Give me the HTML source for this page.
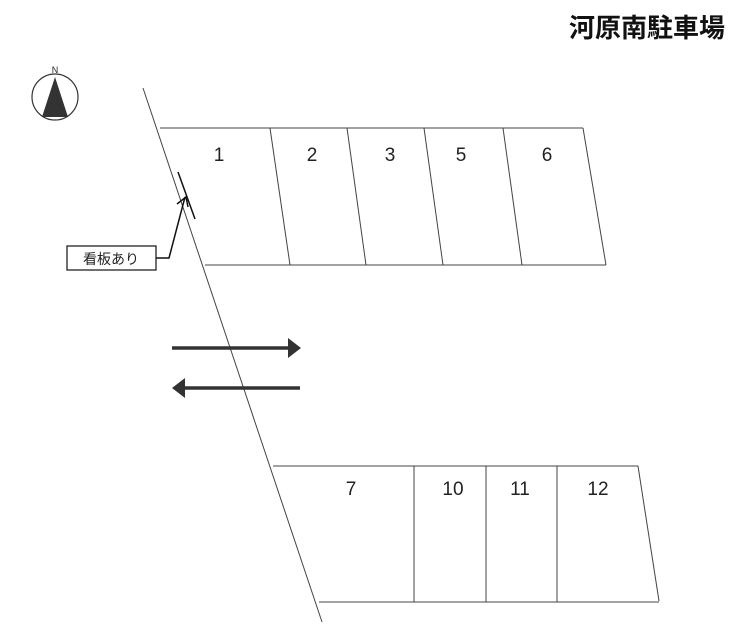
<!DOCTYPE html>
<html><head><meta charset="utf-8"><style>
html,body{margin:0;padding:0;background:#fff;width:739px;height:636px;overflow:hidden}
svg{display:block}
.n{font-family:"Liberation Sans Narrow","Liberation Sans",sans-serif;font-size:19px;fill:#222;text-anchor:middle}
</style></head><body>
<svg width="739" height="636" viewBox="0 0 739 636" xmlns="http://www.w3.org/2000/svg">
<text x="725" y="37" text-anchor="end" font-family="'Liberation Sans','Noto Sans CJK JP',sans-serif" font-size="26" font-weight="bold" fill="#111">河原南駐車場</text>
<!-- compass -->
<circle cx="55" cy="97" r="23" fill="none" stroke="#333" stroke-width="1.2"/>
<polygon points="55,77 42,117 68,117" fill="#333"/>
<text x="55" y="73" text-anchor="middle" font-family="'Liberation Sans',sans-serif" font-size="9" fill="#222">N</text>
<g stroke="#444" stroke-width="1" fill="none">
<line x1="143" y1="88" x2="322" y2="622"/>
<line x1="160" y1="128" x2="583" y2="128"/>
<line x1="205" y1="265" x2="606" y2="265"/>
<line x1="583" y1="128" x2="606" y2="265"/>
<line x1="270" y1="128" x2="290" y2="265"/>
<line x1="347" y1="128" x2="366" y2="265"/>
<line x1="424" y1="128" x2="443" y2="265"/>
<line x1="503" y1="128" x2="522" y2="265"/>
<line x1="273" y1="466" x2="638" y2="466"/>
<line x1="319" y1="602" x2="659" y2="602"/>
<line x1="638" y1="466" x2="659" y2="601"/>
<line x1="414" y1="466" x2="414" y2="602"/>
<line x1="486" y1="466" x2="486" y2="602"/>
<line x1="557" y1="466" x2="557" y2="602"/>
</g>
<text class="n" x="219" y="161">1</text>
<text class="n" x="312" y="161">2</text>
<text class="n" x="390" y="161">3</text>
<text class="n" x="461" y="161">5</text>
<text class="n" x="547" y="161">6</text>
<text class="n" x="351" y="495">7</text>
<text class="n" x="453" y="495">10</text>
<text class="n" x="520" y="495">11</text>
<text class="n" x="598" y="495">12</text>
<g stroke="#111" stroke-width="1.5" fill="none">
<line x1="178" y1="172" x2="195" y2="219"/>
<polyline points="156,258 169,258 185,197"/>
<polyline points="177,204 186,197 188,207"/>
</g>
<rect x="67" y="246" width="89" height="24" fill="#fff" stroke="#111" stroke-width="1.2"/>
<text x="111" y="264" text-anchor="middle" font-family="'Liberation Sans','Noto Sans CJK JP',sans-serif" font-size="14" fill="#222">看板あり</text>
<line x1="172" y1="348" x2="290" y2="348" stroke="#333" stroke-width="3.5"/>
<polygon points="288,338 301,348 288,358" fill="#333"/>
<line x1="183" y1="388" x2="300" y2="388" stroke="#333" stroke-width="3.5"/>
<polygon points="185,378 172,388 185,398" fill="#333"/>
</svg>
</body></html>
